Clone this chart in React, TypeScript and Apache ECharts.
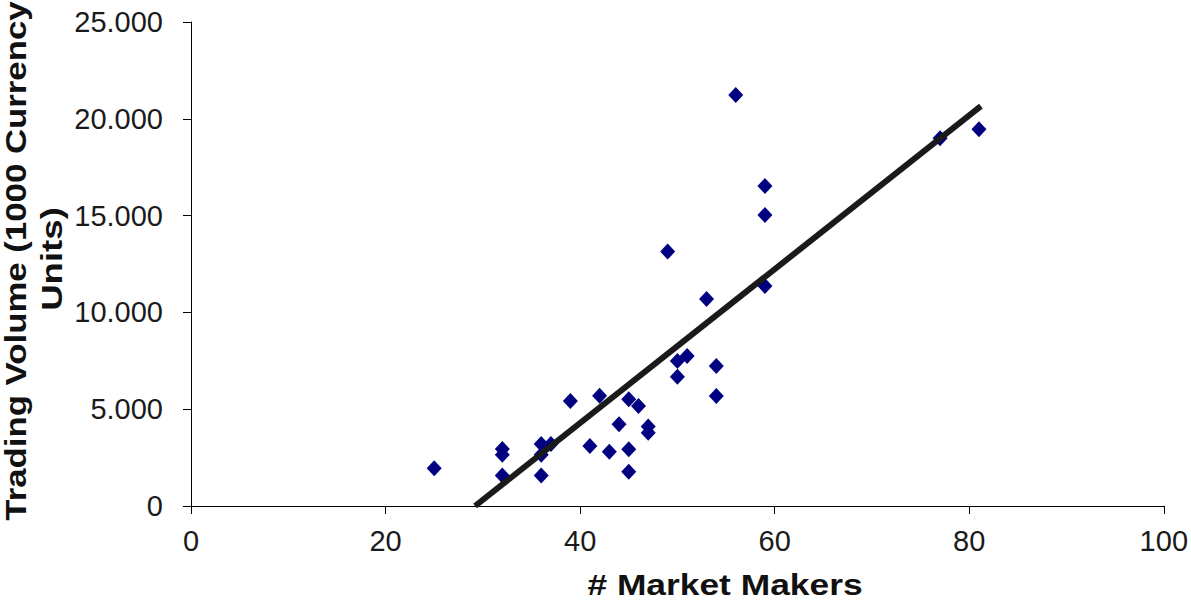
import React, { useEffect, useRef } from "react";
import * as echarts from "echarts";

const marketMakers = [25, 32, 32, 32, 36, 37, 36, 36, 39, 41, 42, 43, 44, 45, 45, 45, 46, 47, 47, 49, 50, 50, 51, 53, 54, 54, 56, 59, 59, 59, 77, 81];
const tradingVolume = [1950, 2950, 2650, 1570, 3200, 3200, 2650, 1570, 5420, 3100, 5700, 2800, 4220, 5510, 2930, 1770, 5170, 4100, 3790, 13140, 7490, 6680, 7750, 10690, 7230, 5680, 21230, 16530, 15030, 11360, 18990, 19460];
const trendX = [29.2, 81.2];
const trendY = [0, 20650];
const xTitle = "# Market Makers";
const yTitleLines = ["Trading Volume (1000 Currency", "Units)"];

export default function App() {
  const ref = useRef<HTMLDivElement>(null);
  useEffect(() => {
    if (!ref.current) return;
    const chart = echarts.init(ref.current, null, { renderer: "svg" });
    const font = "'Liberation Sans', Arial, sans-serif";
    chart.setOption({
      animation: false,
      backgroundColor: "#ffffff",
      grid: { left: 191, right: 25, top: 22, bottom: 95, containLabel: false },
      xAxis: {
        type: "value",
        min: 0,
        max: 100,
        interval: 20,
        splitLine: { show: false },
        axisLine: { onZero: false, lineStyle: { color: "#000", width: 1 } },
        axisTick: { length: 8, lineStyle: { color: "#000" } },
        axisLabel: { margin: 20, fontSize: 29, color: "#1a1a1a", fontFamily: font },
      },
      yAxis: {
        type: "value",
        min: 0,
        max: 25000,
        interval: 5000,
        splitLine: { show: false },
        axisLine: { show: true, onZero: false, lineStyle: { color: "#000", width: 1 } },
        axisTick: { show: true, length: 8, lineStyle: { color: "#000" } },
        axisLabel: {
          margin: 28,
          fontSize: 29,
          color: "#1a1a1a",
          fontFamily: font,
          formatter: (v: number) => (v === 0 ? "0" : Math.round(v / 1000) + ".000"),
        },
      },
      graphic: [
        {
          type: "text",
          x: 725,
          y: 585,
          scaleX: 1.22,
          style: {
            text: xTitle,
            font: "bold 29px " + font,
            fill: "#111",
            textAlign: "center",
            textVerticalAlign: "middle",
          },
        },
        {
          type: "text",
          x: 16,
          y: 261,
          rotation: Math.PI / 2,
          scaleX: 1.16,
          style: {
            text: yTitleLines[0],
            font: "bold 30px " + font,
            fill: "#111",
            textAlign: "center",
            textVerticalAlign: "middle",
          },
        },
        {
          type: "text",
          x: 52,
          y: 259,
          rotation: Math.PI / 2,
          scaleX: 1.22,
          style: {
            text: yTitleLines[1],
            font: "bold 30px " + font,
            fill: "#111",
            textAlign: "center",
            textVerticalAlign: "middle",
          },
        },
      ],
      series: [
        {
          type: "scatter",
          data: marketMakers.map((x, i) => [x, tradingVolume[i]]),
          symbol: "diamond",
          symbolSize: [15, 16],
          itemStyle: { color: "#000080", opacity: 1 },
          z: 2,
        },
        {
          type: "line",
          data: trendX.map((x, i) => [x, trendY[i]]),
          showSymbol: false,
          symbol: "none",
          lineStyle: { color: "#1a1a1a", width: 6 },
          z: 3,
        },
      ],
    });
    return () => chart.dispose();
  }, []);
  return <div ref={ref} style={{ width: 1191, height: 601, position: "absolute", left: 0, top: 0 }} />;
}
